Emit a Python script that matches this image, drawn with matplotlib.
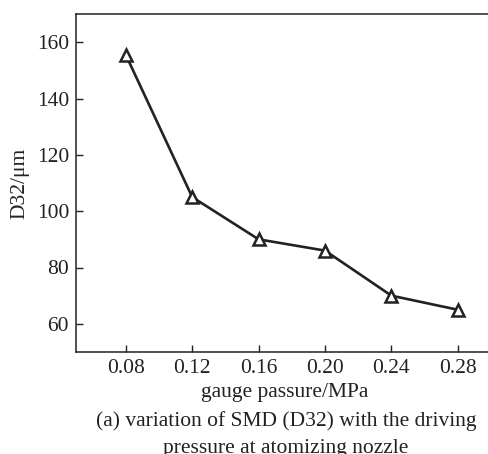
import matplotlib
matplotlib.use("Agg")
import matplotlib.pyplot as plt

plt.rcParams['font.family'] = ['Liberation Serif', 'DejaVu Serif']

pressure = [0.08, 0.12, 0.16, 0.20, 0.24, 0.28]
d32 = [155.5, 105, 90, 86, 70, 65]
xticks = [0.08, 0.12, 0.16, 0.20, 0.24, 0.28]
xticklabels = ["0.08", "0.12", "0.16", "0.20", "0.24", "0.28"]
yticks = [60, 80, 100, 120, 140, 160]

FS = 15.5
fig = plt.figure(figsize=(4.89, 4.54), dpi=100)
ax = fig.add_axes([76/489, 102/454, (491-76)/489, (352-14)/454])

ax.plot(pressure, d32, color='#222222', lw=1.9, marker='^', markersize=9,
        markerfacecolor='white', markeredgecolor='#222222', markeredgewidth=1.8)

ax.set_xlim(0.05, 0.30)
ax.set_ylim(50, 170)
ax.set_xticks(xticks)
ax.set_xticklabels(xticklabels)
ax.set_yticks(yticks)
ax.tick_params(direction='in', length=5, width=1, labelsize=FS, pad=5, colors='#222222')
for s in ['left', 'bottom', 'top']:
    ax.spines[s].set_linewidth(1.1)
    ax.spines[s].set_color('#222222')
ax.spines['right'].set_visible(False)

ax.set_ylabel("D32/μm", fontsize=FS, color='#222222', labelpad=5)

fig.text(285/489, 1 - 392/454, "gauge passure/MPa", fontsize=FS, ha='center', va='center', color='#222222')
fig.text(286/489, 1 - 421/454, "(a) variation of SMD (D32) with the driving", fontsize=FS, ha='center', va='center', color='#222222')
fig.text(286/489, 1 - 449/454, "pressure at atomizing nozzle", fontsize=FS, ha='center', va='center', color='#222222')

fig.savefig("out.png", dpi=100)
